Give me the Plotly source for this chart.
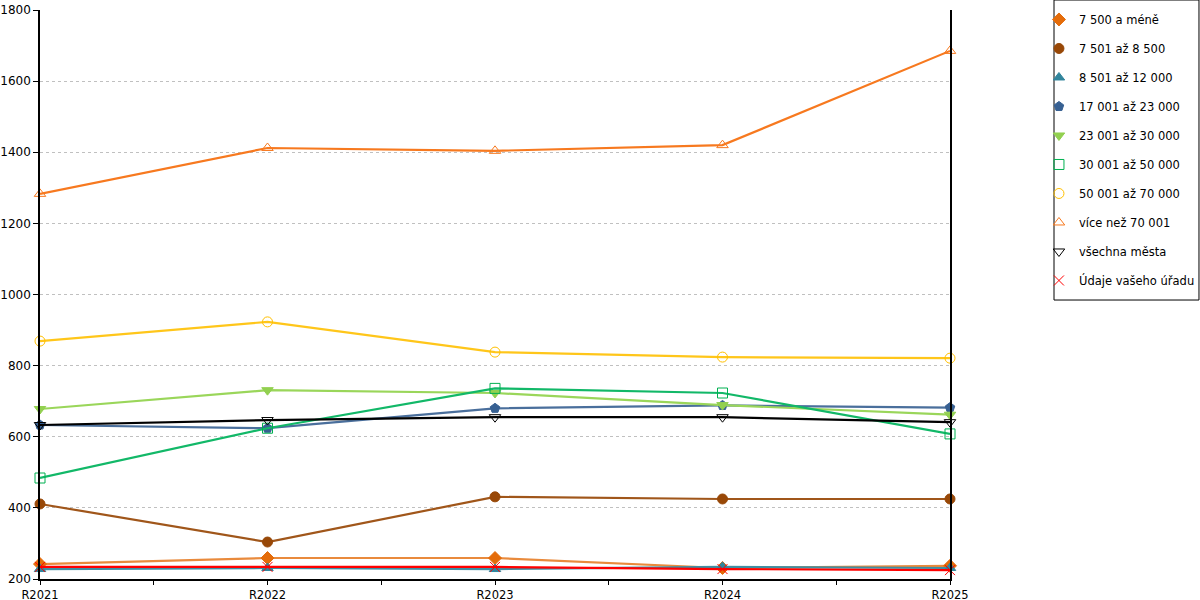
import plotly.graph_objects as go

years = ["R2021", "R2022", "R2023", "R2024", "R2025"]

names = [
    "7 500 a méně",
    "7 501 až 8 500",
    "8 501 až 12 000",
    "17 001 až 23 000",
    "23 001 až 30 000",
    "30 001 až 50 000",
    "50 001 až 70 000",
    "více než 70 001",
    "všechna města",
    "Údaje vašeho úřadu",
]

do_7500 = [242, 259, 259, 231, 237]
do_8500 = [411, 304, 431, 425, 425]
do_12000 = [228, 231, 228, 234, 231]
do_23000 = [633, 624, 680, 688, 682]
do_30000 = [678, 731, 723, 689, 662]
do_50000 = [484, 624, 736, 723, 608]
do_70000 = [869, 923, 838, 824, 821]
nad_70001 = [1283, 1412, 1404, 1420, 1685]
vsechna = [633, 647, 655, 655, 641]
urad = [234, 234, 234, 228, 225]

series = [do_7500, do_8500, do_12000, do_23000, do_30000,
          do_50000, do_70000, nad_70001, vsechna, urad]

colors = ["#e46c0a", "#984807", "#31859c", "#376092", "#92d050",
          "#00b050", "#ffc000", "#f7791f", "#000000", "#ff0000"]
line_colors = ["#e98a3c", "#a0561a", "#3f8fa3", "#4a6f9c", "#9ad65a",
               "#12b868", "#ffc61a", "#f7791f", "#000000", "#ff0000"]
symbols = ["diamond", "circle", "triangle-up", "pentagon", "triangle-down",
           "square-open", "circle-open", "triangle-up-open",
           "triangle-down-open", "x-thin-open"]

xs = list(range(len(years)))

fig = go.Figure()
for i, (name, vals) in enumerate(zip(names, series)):
    fig.add_trace(go.Scatter(
        x=xs, y=vals, name=name, mode="lines+markers",
        showlegend=False, cliponaxis=False,
        line=dict(color=line_colors[i], width=2.2),
        marker=dict(symbol=symbols[i], size=10, color=colors[i],
                    line=dict(color=colors[i], width=1)),
    ))

# legend entries show only the marker, like the original
for i, name in enumerate(names):
    fig.add_trace(go.Scatter(
        x=[None], y=[None], name=name, mode="markers",
        legendgroup=f"g{i}",
        marker=dict(symbol=symbols[i], size=10, color=colors[i],
                    line=dict(color=colors[i], width=1)),
    ))

tickvals = [0, 0.5, 1, 1.5, 2, 2.5, 3, 3.5, 4]
ticktext = []
for v in tickvals:
    ticktext.append(years[int(v)] if v == int(v) else "")

# legend frame
fig.add_shape(type="rect", xref="paper", yref="paper",
              x0=1.1143, x1=1.2736, y0=0.4903, y1=1.0176,
              line=dict(color="#000000", width=1), fillcolor="rgba(0,0,0,0)")

fig.update_layout(
    width=1200, height=600,
    paper_bgcolor="white", plot_bgcolor="white",
    margin=dict(l=40, r=250, t=10, b=21),
    font=dict(family="DejaVu Sans", size=12, color="#000000"),
    showlegend=True,
    legend=dict(
        xref="container", yref="container", x=0.8658, y=0.9917,
        xanchor="left", yanchor="top",
        borderwidth=0, itemwidth=30,
        tracegroupgap=10, font=dict(size=11.5),
        bgcolor="rgba(0,0,0,0)",
    ),
    xaxis=dict(
        range=[0, 4], tickvals=tickvals, ticktext=ticktext,
        showgrid=False, zeroline=False, automargin=False,
        showline=True, linecolor="#000000", linewidth=1.5,
        ticks="outside", ticklen=4, tickcolor="#000000",
        tickfont=dict(size=11.5),
    ),
    yaxis=dict(
        range=[200, 1800], dtick=200, automargin=False,
        showgrid=True, gridcolor="#c0c0c0", griddash="3px,3px",
        zeroline=False,
        showline=True, mirror=True, linecolor="#000000", linewidth=1.5,
        ticks="outside", ticklen=5, tickcolor="#000000",
        tickfont=dict(size=12),
    ),
)

# page body has an 8px default margin; drop it so the figure fills the window
fig.write_html("out.html", config={"displayModeBar": False},
               post_script="document.body.style.margin='0px';")
